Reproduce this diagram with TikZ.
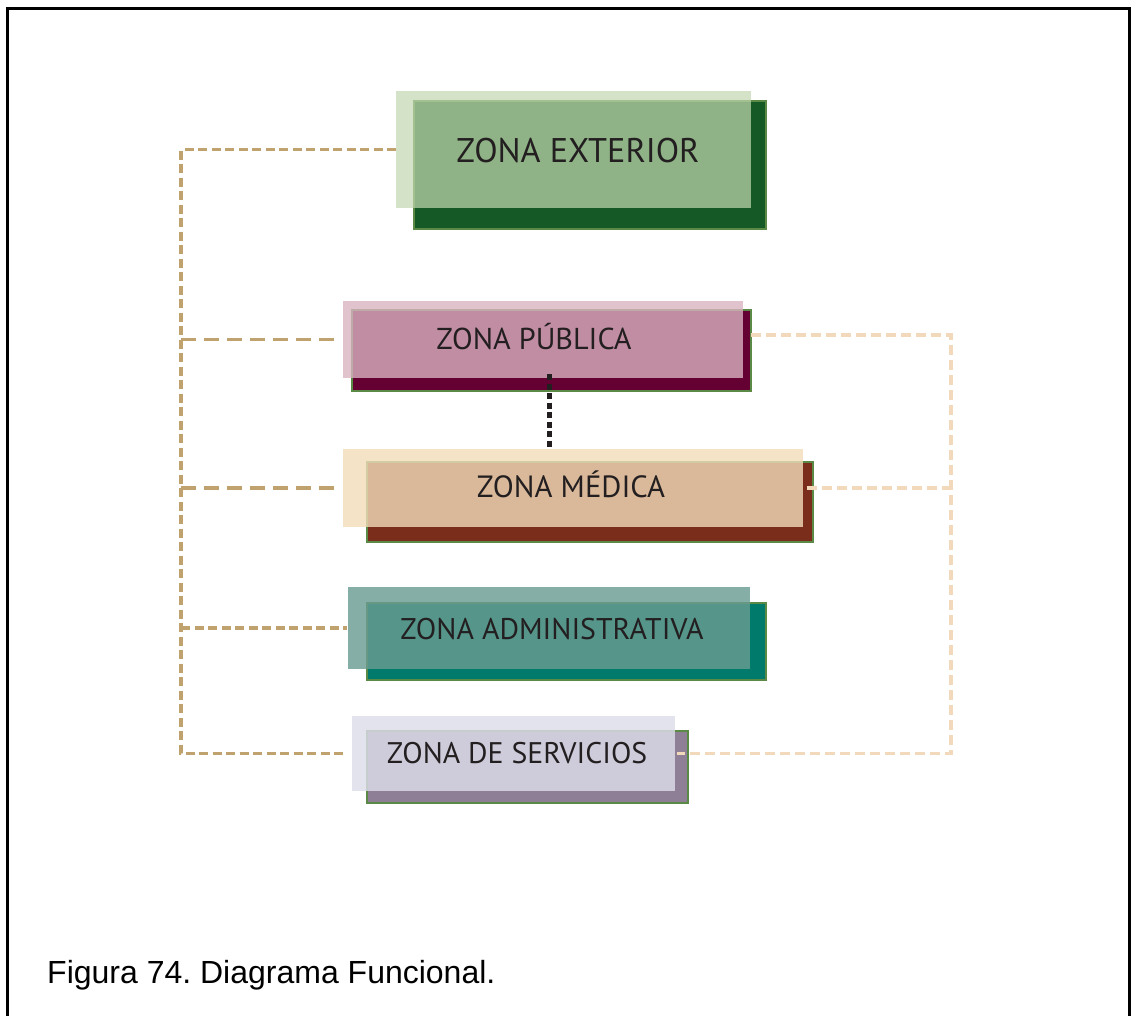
\documentclass[tikz,border=0pt]{standalone}
\usepackage{fontspec}
\setmainfont{PT Sans}
\newfontfamily\capfont{Liberation Sans}
\definecolor{txt}{RGB}{35,31,32}
\definecolor{bgreen}{RGB}{90,138,70}
\definecolor{tan}{RGB}{192,162,110}
\definecolor{peach}{RGB}{243,217,187}
\definecolor{extD}{RGB}{21,90,38}
\definecolor{extF}{RGB}{195,216,176}
\definecolor{pubD}{RGB}{100,0,50}
\definecolor{pubF}{RGB}{218,179,194}
\definecolor{medD}{RGB}{122,45,26}
\definecolor{medF}{RGB}{242,221,186}
\definecolor{admD}{RGB}{0,122,106}
\definecolor{admF}{RGB}{105,156,146}
\definecolor{serD}{RGB}{142,127,150}
\definecolor{serF}{RGB}{221,221,234}
\frenchspacing
\begin{document}
\begin{tikzpicture}[x=1pt,y=-1pt,
  backbox/.style={draw=bgreen, line width=2pt, inner sep=0pt, outer sep=0pt, rectangle},
  frontbox/.style={inner sep=0pt, outer sep=0pt, rectangle},
  zlabel/.style={inner sep=0pt, text=txt, text depth=0pt, anchor=center, font=\fontsize{30.2}{36}\selectfont, text height=21pt},
  tanshort/.style={draw=tan, line width=3.8pt, dash pattern=on 9pt off 4.5pt},
  tanlong/.style={draw=tan, line width=3.8pt, dash pattern=on 15pt off 8pt},
  peachline/.style={draw=peach, line width=3.8pt, dash pattern=on 10pt off 5pt},
  blackdot/.style={draw=txt, line width=5pt, dash pattern=on 6pt off 3.5pt}]
\useasboundingbox (0,0) rectangle (1131,1015);
\fill[white] (0,0) rectangle (1131,1015);
% frame
\draw[line width=3pt, black] (7,1016) -- (7,8) -- (1129.5,8) -- (1129.5,1016);

% ZONA EXTERIOR
\node[backbox, fill=extD, minimum width=352pt, minimum height=128pt] (extb) at (590,165) {};
\node[frontbox, fill=extF, fill opacity=0.7, minimum width=355pt, minimum height=117pt] (ext) at (573.5,149.5) {};
\node[zlabel, font=\fontsize{34.2}{40}\selectfont, text height=24pt] (extt) at (578,150) {ZONA EXTERIOR};

% ZONA PUBLICA
\node[backbox, fill=pubD, minimum width=399pt, minimum height=81pt] (pubb) at (551.5,350.5) {};
\node[frontbox, fill=pubF, fill opacity=0.79, minimum width=400pt, minimum height=77pt] (pub) at (543,339.5) {};
\node[zlabel] (pubt) at (534,339) {ZONA PÚBLICA};

% ZONA MEDICA
\node[backbox, fill=medD, minimum width=446pt, minimum height=80pt] (medb) at (590,502) {};
\node[frontbox, fill=medF, fill opacity=0.8, minimum width=460pt, minimum height=78pt] (med) at (573,488) {};
\node[zlabel, font=\fontsize{30.7}{36}\selectfont] (medt) at (571,487) {ZONA MÉDICA};

% ZONA ADMINISTRATIVA
\node[backbox, fill=admD, minimum width=399pt, minimum height=77pt] (admb) at (566.5,641.5) {};
\node[frontbox, fill=admF, fill opacity=0.81, minimum width=402pt, minimum height=82pt] (adm) at (549,628) {};
\node[zlabel, font=\fontsize{29.9}{36}\selectfont] (admt) at (552,629) {ZONA ADMINISTRATIVA};

% ZONA DE SERVICIOS
\node[backbox, fill=serD, minimum width=321pt, minimum height=72pt] (serb) at (527.5,767) {};
\node[frontbox, fill=serF, fill opacity=0.82, minimum width=323pt, minimum height=75pt] (ser) at (513.5,753.5) {};
\node[zlabel, font=\fontsize{29.8}{36}\selectfont] (sert) at (517,753) {ZONA DE SERVICIOS};

% left bus
\coordinate (busL) at (181,0);
\coordinate (busR) at (951,0);
\draw[tanshort] (ext.west) -- (ext.west -| busL) -- (ser.west -| busL) -- ([xshift=-5pt]ser.west);
\draw[tanlong] (pub.west -| busL) -- ([xshift=-6pt]pub.west);
\draw[tanlong] (med.west -| busL) -- ([xshift=-6pt]med.west);
\draw[tanshort] (adm.west -| busL) -- ([xshift=-1pt]adm.west);

% right bus
\coordinate (r1) at (951,335);
\draw[peachline] (r1 -| pubb.east) -- (r1) -- (ser.east -| busR) -- ([xshift=2pt]ser.east);
\draw[peachline] ([xshift=-6pt]medb.east |- med.east) -- (med.east -| busR);

% black dotted link
\coordinate (dmid) at (549,0);
\draw[blackdot] (pub.south -| dmid) ++(0,-4) -- (med.north -| dmid);

% caption
\node[anchor=base west, inner sep=0pt, font=\capfont\fontsize{32}{38}\selectfont, text=black] (cap) at (47,983) {Figura 74. Diagrama Funcional.};
\end{tikzpicture}
\end{document}
